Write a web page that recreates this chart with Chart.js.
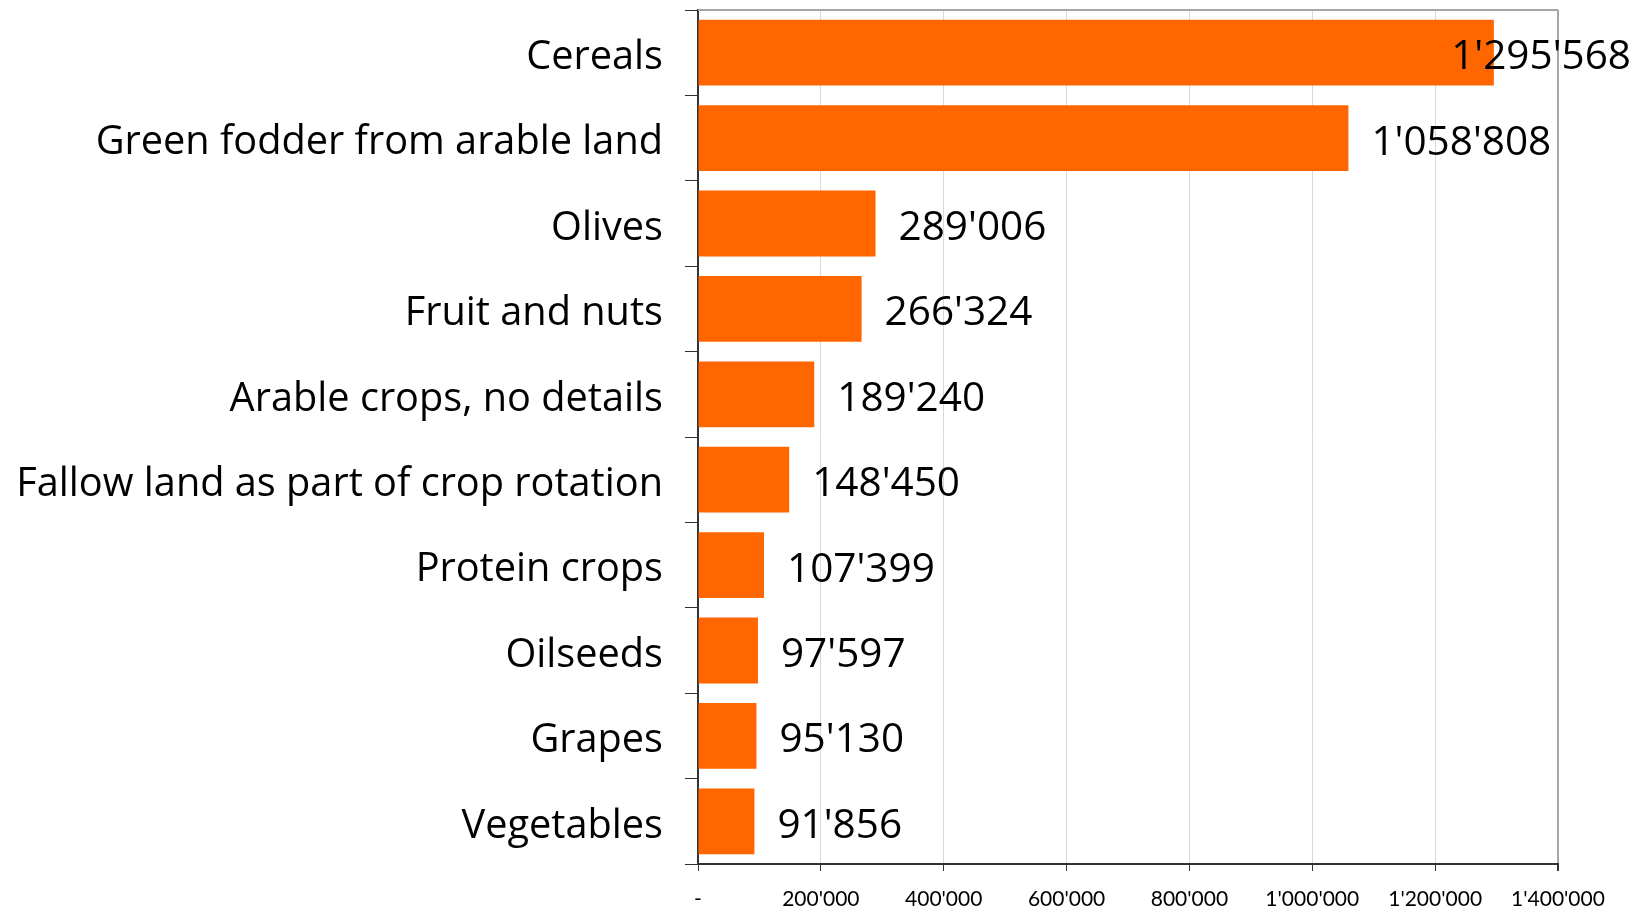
<!DOCTYPE html>
<html>
<head>
<meta charset="utf-8">
<script src="https://cdn.jsdelivr.net/npm/chart.js@4"></script>
<style>
  html, body { margin: 0; padding: 0; background: #fff; }
  #wrap { width: 1639px; height: 909px; }
</style>
</head>
<body>
<div id="wrap"><canvas id="cropChart"></canvas></div>
<script>
const categories = [
  'Cereals',
  'Green fodder from arable land',
  'Olives',
  'Fruit and nuts',
  'Arable crops, no details',
  'Fallow land as part of crop rotation',
  'Protein crops',
  'Oilseeds',
  'Grapes',
  'Vegetables'
];
const areas = [1295568, 1058808, 289006, 266324, 189240, 148450, 107399, 97597, 95130, 91856];
const axisMax = 1400000;
const axisStep = 200000;

const FONT = '"Open Sans", Lato, sans-serif';
const TICK_FONT = 'Lato, sans-serif';

function fmt(v) {
  if (v === 0) return '-';
  return String(Math.round(v)).replace(/\B(?=(\d{3})+(?!\d))/g, "'");
}

// pick a font size so the longest label is as wide as in the original
function fitSize(text, width) {
  const c = document.createElement('canvas').getContext('2d');
  c.font = `100px ${FONT}`;
  return Math.round(100 * width / c.measureText(text).width * 10) / 10;
}
const labelSize = fitSize('Fallow land as part of crop rotation', 647);
const valueSize = fitSize("1'058'808", 180);

// value labels at the bar ends, kept inside the canvas
const valueLabels = {
  id: 'valueLabels',
  afterDatasetsDraw(chart) {
    const { ctx } = chart;
    const meta = chart.getDatasetMeta(0);
    ctx.save();
    ctx.font = `${valueSize}px ${FONT}`;
    ctx.fillStyle = '#000';
    ctx.textBaseline = 'middle';
    ctx.textAlign = 'left';
    meta.data.forEach((bar, i) => {
      const txt = fmt(areas[i]);
      const w = ctx.measureText(txt).width;
      const x = Math.min(bar.x + 23, chart.width - 8 - w);
      ctx.fillText(txt, x, bar.y + 5);
    });
    ctx.restore();
  }
};

// grey frame line along the top of the plot
const topFrame = {
  id: 'topFrame',
  beforeDatasetsDraw(chart) {
    const { ctx, chartArea: a } = chart;
    ctx.save();
    ctx.strokeStyle = '#a6a6a6';
    ctx.lineWidth = 2;
    ctx.beginPath();
    ctx.moveTo(a.left, a.top);
    ctx.lineTo(a.right, a.top);
    ctx.stroke();
    ctx.restore();
  }
};

new Chart(document.getElementById('cropChart'), {
  type: 'bar',
  data: {
    labels: categories,
    datasets: [{
      data: areas,
      backgroundColor: '#ff6600',
      borderWidth: 0,
      barPercentage: 0.77,
      categoryPercentage: 1
    }]
  },
  options: {
    indexAxis: 'y',
    responsive: true,
    maintainAspectRatio: false,
    animation: false,
    layout: { padding: { top: 10, right: 81, left: 0, bottom: 0 } },
    plugins: {
      legend: { display: false },
      tooltip: { enabled: false }
    },
    scales: {
      x: {
        min: 0,
        max: axisMax,
        afterFit: (s) => { s.height = 45; s.paddingLeft = 0; s.paddingRight = 0; },
        ticks: {
          stepSize: axisStep,
          padding: 16,
          color: '#000',
          font: { family: TICK_FONT, size: 21 },
          callback: (v) => fmt(v)
        },
        grid: {
          color: (c) => c.tick && c.tick.value === axisMax ? '#a6a6a6' : '#d9d9d9',
          lineWidth: (c) => c.tick && c.tick.value === axisMax ? 2 : 1,
          tickColor: '#333',
          tickLength: 7
        },
        border: { color: '#333', width: 2 }
      },
      y: {
        afterFit: (s) => { s.width = 698; s.paddingTop = 0; s.paddingBottom = 0; },
        ticks: {
          padding: 22,
          labelOffset: 5,
          color: '#000',
          font: { family: FONT, size: labelSize }
        },
        grid: {
          offset: true,
          drawOnChartArea: false,
          tickColor: '#333',
          tickLength: 13
        },
        border: { color: '#333', width: 2 }
      }
    }
  },
  plugins: [topFrame, valueLabels]
});
</script>
</body>
</html>
